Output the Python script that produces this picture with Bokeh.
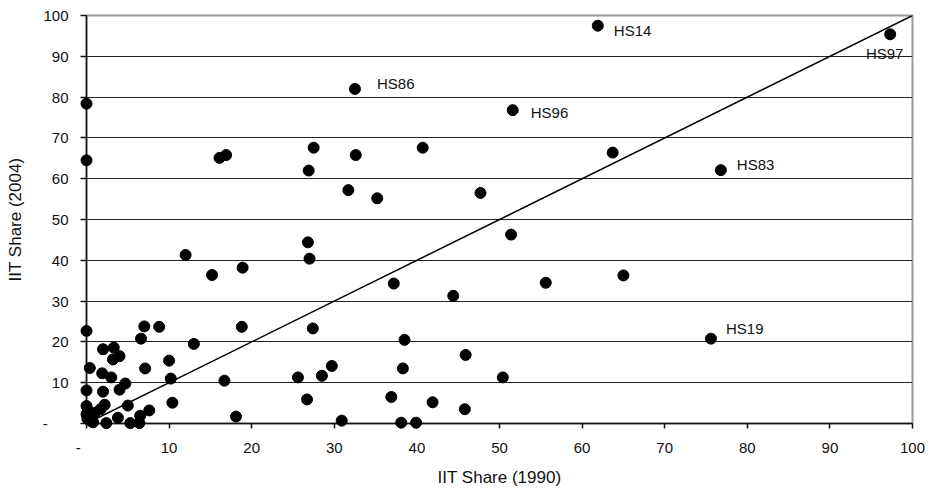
from bokeh.plotting import figure
from bokeh.models import Range1d, FixedTicker, Slope, ColumnDataSource
from bokeh.embed import file_html
from bokeh.resources import INLINE
from bokeh.core.properties import value

# ---- data ----
iit_1990 = [0.0, 0.0, 16.1, 16.9, 27.5, 26.9, 32.6, 40.7, 63.7, 31.7, 35.2, 47.7,
            51.4, 26.8, 27.0, 12.0, 15.2, 18.9, 37.2, 44.4, 55.6, 65.0, 0.0, 7.0,
            8.8, 18.8, 27.4, 6.6, 13.0, 38.5, 2.0, 3.3, 3.2, 4.0, 10.0, 45.9,
            0.4, 7.1, 29.7, 38.3, 1.9, 3.0, 10.2, 25.6, 28.5, 50.4, 16.7, 4.7,
            0.0, 2.0, 4.0, 26.7, 36.9, 41.9, 10.4, 2.2, 5.0, 45.8, 7.6, 6.5,
            3.8, 18.1, 30.9, 38.1, 39.9, 2.4, 5.3, 6.4, 0.0, 0.2, 0.0, 0.4,
            0.1, 1.0, 1.7, 0.8]
iit_2004 = [78.4, 64.5, 65.1, 65.8, 67.6, 62.0, 65.8, 67.6, 66.4, 57.2, 55.2, 56.5,
            46.3, 44.4, 40.4, 41.3, 36.4, 38.2, 34.3, 31.3, 34.5, 36.3, 22.7, 23.8,
            23.7, 23.7, 23.3, 20.8, 19.5, 20.5, 18.2, 18.6, 15.7, 16.5, 15.4, 16.8,
            13.6, 13.5, 14.1, 13.5, 12.3, 11.3, 11.0, 11.3, 11.7, 11.3, 10.5, 9.8,
            8.1, 7.8, 8.3, 5.9, 6.5, 5.2, 5.1, 4.6, 4.4, 3.5, 3.2, 1.9,
            1.4, 1.7, 0.7, 0.2, 0.2, 0.1, 0.1, 0.1, 4.3, 3.2, 2.3, 0.7,
            1.2, 2.6, 3.5, 0.3]

label_codes = ["HS14", "HS97", "HS86", "HS96", "HS83", "HS19"]
label_1990 = [61.9, 97.3, 32.5, 51.6, 76.8, 75.6]
label_2004 = [97.5, 95.4, 82.0, 76.8, 62.1, 20.8]

tick_values = [0, 10, 20, 30, 40, 50, 60, 70, 80, 90, 100]
zero_label = "-"

# ---- figure ----
FONT = "Liberation Sans"
p = figure(width=936, height=490, output_backend="svg", toolbar_location=None,
           x_range=Range1d(0, 100), y_range=Range1d(0, 100),
           min_border_left=86, min_border_right=24, min_border_top=15,
           min_border_bottom=67)
p.background_fill_color = "white"
p.border_fill_color = "white"
p.outline_line_color = "#999999"
p.outline_line_width = 2

p.xgrid.visible = False
p.ygrid.ticker = FixedTicker(ticks=tick_values[1:-1])
p.ygrid.grid_line_color = "#222222"
p.ygrid.grid_line_width = 1

nb = "\u00a0"
p.xaxis.ticker = FixedTicker(ticks=tick_values)
p.yaxis.ticker = FixedTicker(ticks=tick_values)
p.xaxis.major_label_overrides = {0: zero_label + nb * 4}
p.yaxis.major_label_overrides = {0: zero_label + nb * 5}

for ax in (p.xaxis[0], p.yaxis[0]):
    ax.axis_line_color = "#111111"
    ax.axis_line_width = 1.5
    ax.major_tick_line_color = "#111111"
    ax.major_tick_line_width = 1.5
    ax.major_tick_in = 0
    ax.minor_tick_out = 0
    ax.minor_tick_in = 0
    ax.major_label_text_font = FONT
    ax.major_label_text_font_size = "15px"
    ax.major_label_text_color = "#111111"
    ax.axis_label_text_font = FONT
    ax.axis_label_text_font_size = "17px"
    ax.axis_label_text_font_style = "normal"
    ax.axis_label_text_color = "#111111"

p.xaxis.major_tick_out = 5
p.yaxis.major_tick_out = 6
p.xaxis.major_label_standoff = 10
p.yaxis.major_label_standoff = 12
p.xaxis.axis_label = "IIT Share (1990)"
p.yaxis.axis_label = "IIT Share (2004)"
p.xaxis.axis_label_standoff = 9
p.yaxis.axis_label_standoff = 15

# 45-degree reference line
p.add_layout(Slope(gradient=1, y_intercept=0, line_color="black", line_width=1.5))

src = ColumnDataSource(dict(x=iit_1990 + label_1990, y=iit_2004 + label_2004))
r = p.scatter("x", "y", source=src, size=11, fill_color="black", line_color="black")
r.level = "overlay"

# labels: pixel offsets relative to each labelled point
offs_x = [16, -5.5, 22, 18, 16, 15]
offs_y = [5, 19, -5.5, 2, -6, -10]
aligns = ["left", "center", "left", "left", "left", "left"]
for code, xv, yv, dx, dy, al in zip(label_codes, label_1990, label_2004, offs_x, offs_y, aligns):
    p.text(x=[xv], y=[yv], text=[code], x_offset=dx, y_offset=dy,
           text_align=al, text_baseline="middle", text_font=value(FONT),
           text_font_size="15px", text_color="#111111")

open("out.html", "w").write(file_html(p, INLINE))
